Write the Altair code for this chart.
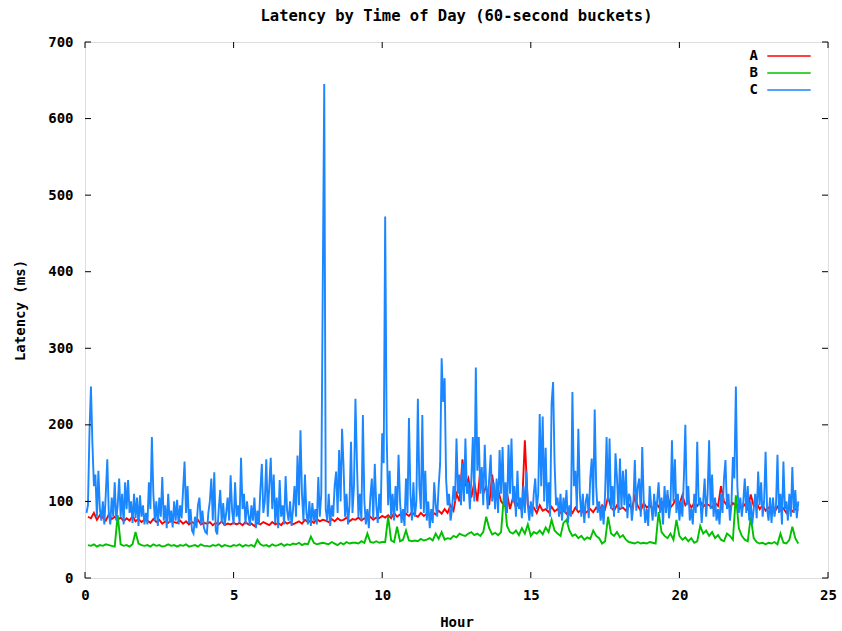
import altair as alt
import pandas as pd

series_names = ["A", "B", "C"]
series_colors = ["#ff0000", "#00c000", "#1a86ff"]

x_ticks = [0, 5, 10, 15, 20, 25]
y_ticks = [0, 100, 200, 300, 400, 500, 600, 700]

# Series A: one value per 6 minutes (0.1 h), rows = one hour each
a_vals = [
    80, 78, 85, 76, 82, 79, 75, 83, 77, 80,
    76, 79, 74, 78, 75, 81, 74, 77, 73, 76,
    75, 72, 77, 73, 76, 71, 74, 72, 75, 73,
    72, 75, 71, 74, 70, 73, 71, 76, 70, 72,
    71, 73, 69, 72, 70, 74, 69, 71, 70, 72,
    70, 72, 69, 73, 70, 71, 68, 72, 70, 73,
    71, 69, 73, 70, 72, 69, 74, 71, 73, 70,
    72, 74, 71, 76, 73, 75, 72, 77, 74, 76,
    75, 73, 77, 74, 78, 75, 76, 79, 74, 77,
    76, 79, 75, 78, 77, 80, 76, 79, 78, 81,
    79, 82, 78, 85, 80, 83, 79, 84, 81, 86,
    82, 80, 85, 81, 84, 82, 86, 83, 88, 84,
    90, 85, 95, 88, 110, 100, 155, 120, 130, 105,
    125, 100, 140, 110, 120, 95, 135, 105, 115, 100,
    95, 110, 90, 105, 92, 100, 88, 180, 95, 90,
    92, 85, 95, 88, 90, 86, 93, 87, 90, 85,
    88, 84, 90, 85, 92, 86, 89, 84, 87, 90,
    86, 92, 88, 95, 90, 106, 92, 88, 95, 90,
    92, 88, 96, 90, 106, 94, 88, 98, 92, 95,
    90, 98, 93, 100, 95, 108, 92, 97, 105, 96,
    108, 95, 100, 92, 98, 94, 100, 93, 97, 95,
    92, 98, 94, 120, 100, 95, 92, 98, 94, 96,
    92, 96, 90, 109, 94, 98, 90, 95, 88, 92,
    90, 86, 93, 88, 91, 85, 92, 87, 90, 88,
]

# Series B: one value per 6 minutes (0.1 h)
b_vals = [
    43, 42, 44, 41, 43, 42, 44, 43, 42, 41,
    82, 44, 42, 43, 41, 44, 60, 45, 43, 42,
    43, 41, 44, 42, 43, 41, 42, 44, 42, 43,
    41, 43, 42, 44, 41, 42, 43, 41, 44, 42,
    42, 41, 43, 42, 44, 41, 43, 42, 41, 43,
    42, 44, 41, 43, 42, 43, 41, 50, 44, 42,
    43, 41, 44, 42, 43, 45, 42, 44, 43, 45,
    44, 46, 43, 45, 44, 54, 46, 44, 45, 46,
    45, 44, 47, 45, 43, 46, 44, 47, 45, 46,
    46, 45, 48, 46, 58, 47, 46, 48, 46, 47,
    47, 80, 49, 47, 67, 48, 50, 62, 49, 48,
    49, 48, 51, 49, 50, 52, 49, 58, 51, 60,
    50, 52, 51, 55, 53, 58, 56, 55, 58, 60,
    56, 58, 55, 60, 80, 65, 57, 59, 56, 60,
    110, 68, 60, 58, 62, 56, 65, 58, 70, 55,
    60, 58, 62, 57, 66, 60, 76, 62, 58, 55,
    72, 76, 62, 55, 57, 52, 55, 50, 53, 51,
    62, 55, 52, 45, 48, 80, 58, 55, 60, 53,
    56, 50, 47, 46, 45, 47, 45, 46, 45, 47,
    46, 45, 86, 60, 55, 52, 58, 50, 76, 55,
    50, 53, 48, 52, 46, 48, 68, 58, 62, 55,
    60, 52, 56, 50, 48, 58, 55, 50, 108, 65,
    55, 50, 48, 80, 52, 47, 45, 46, 44, 46,
    45, 47, 44, 58, 46, 45, 50, 67, 52, 45,
]

# Series C: one value per 3 minutes (0.05 h)
c_vals = [
    85, 95, 190, 250, 175, 120, 135, 80, 140, 90, 75, 100, 70, 110, 155, 85, 70, 105, 80, 125,
    75, 95, 130, 80, 110, 70, 125, 90, 128, 85, 100, 72, 110, 78, 105, 68, 108, 80, 95, 70,
    85, 70, 125, 90, 184, 110, 75, 100, 68, 105, 80, 132, 75, 95, 65, 110, 72, 88, 66, 100,
    75, 102, 70, 95, 78, 115, 152, 85, 120, 72, 90, 62, 58, 80, 65, 95, 105, 70, 88, 66,
    60, 58, 85, 100, 130, 75, 138, 62, 57, 90, 115, 72, 98, 68, 85, 105, 75, 134, 88, 70,
    125, 80, 95, 72, 157, 90, 110, 70, 100, 82, 68, 95, 75, 105, 65, 88, 70, 115, 149, 85,
    100, 155, 80, 120, 157, 90, 135, 72, 105, 65, 128, 80, 95, 70, 133, 88, 75, 100, 68, 90,
    120, 80, 160, 95, 193, 110, 75, 135, 85, 70, 100, 68, 98, 75, 90, 70, 132, 80, 110, 380,
    645, 90, 75, 110, 68, 95, 80, 120, 139, 85, 167, 100, 195, 145, 80, 110, 70, 95, 178, 85,
    120, 234, 150, 80, 110, 75, 213, 100, 70, 90, 65, 105, 130, 78, 149, 95, 72, 110, 85, 189,
    150, 472, 187, 95, 140, 80, 110, 75, 120, 88, 161, 100, 72, 90, 68, 130, 85, 209, 110, 75,
    125, 80, 100, 234, 120, 90, 213, 85, 140, 75, 100, 65, 90, 72, 125, 95, 80, 120, 150, 287,
    230, 261, 130, 95, 110, 75, 90, 120, 100, 182, 110, 135, 95, 150, 100, 182, 110, 125, 90, 130,
    184, 100, 275, 140, 184, 110, 145, 95, 174, 120, 90, 130, 161, 100, 125, 90, 130, 85, 167, 110,
    171, 95, 125, 85, 174, 110, 182, 100, 120, 80, 140, 90, 105, 78, 120, 85, 140, 95, 75, 100,
    80, 110, 130, 90, 110, 214, 120, 211, 100, 170, 90, 125, 80, 228, 256, 150, 95, 105, 80, 110,
    75, 105, 85, 115, 72, 95, 80, 243, 120, 140, 90, 195, 110, 80, 110, 72, 100, 110, 78, 130,
    156, 95, 220, 120, 85, 100, 75, 95, 70, 110, 184, 100, 182, 90, 120, 80, 163, 130, 85, 156,
    90, 140, 95, 142, 78, 110, 105, 75, 95, 154, 88, 120, 130, 80, 171, 100, 72, 90, 68, 120,
    95, 75, 110, 80, 100, 125, 85, 105, 70, 120, 85, 115, 78, 95, 180, 100, 155, 85, 110, 75,
    100, 80, 130, 200, 95, 120, 75, 90, 70, 110, 85, 178, 95, 105, 72, 100, 130, 80, 110, 180,
    90, 135, 80, 105, 75, 90, 70, 110, 85, 130, 154, 90, 110, 75, 95, 158, 130, 250, 120, 85,
    105, 80, 100, 130, 85, 120, 75, 100, 70, 90, 110, 78, 139, 95, 125, 80, 100, 165, 90, 75,
    105, 72, 105, 80, 95, 161, 85, 110, 70, 152, 90, 100, 75, 110, 80, 145, 85, 115, 78, 100,
]

assert len(a_vals) == 240 and len(b_vals) == 240 and len(c_vals) == 480

hours_ab = [round(0.1 * (i + 1), 2) for i in range(240)]
hours_c = [round(0.05 * (i + 1), 3) for i in range(480)]

rows = []
for name, hrs, vals in [("A", hours_ab, a_vals), ("B", hours_ab, b_vals), ("C", hours_c, c_vals)]:
    for h, v in zip(hrs, vals):
        rows.append({"hour": h, "latency": v, "series": name})
df = pd.DataFrame(rows)

FONT = "DejaVu Sans Mono"
W, H = 743, 536

x_scale = alt.Scale(domain=[0, 25], nice=False, zero=False)
y_scale = alt.Scale(domain=[0, 700], nice=False)

x_axis = alt.Axis(
    title="Hour", values=x_ticks, ticks=False, domain=False, grid=False,
    labelPadding=10, labelFont=FONT, labelFontSize=14, labelFontWeight="bold",
    labelColor="black", titleFont=FONT, titleFontSize=14, titleFontWeight="bold",
    titleColor="black", titleX=W / 2, titleY=44, titleBaseline="middle",
    labelFlush=False,
)
y_axis = alt.Axis(
    title="Latency (ms)", values=y_ticks, ticks=False, domain=False, grid=False,
    labelPadding=12, labelFont=FONT, labelFontSize=14, labelFontWeight="bold",
    labelColor="black", titleFont=FONT, titleFontSize=14, titleFontWeight="bold",
    titleColor="black", titleX=-65, titleY=H / 2, titleBaseline="middle",
    titleAngle=270, labelFlush=False,
)

lines = alt.Chart(df).mark_line(strokeWidth=1.9, clip=True).encode(
    x=alt.X("hour:Q", scale=x_scale, axis=x_axis),
    y=alt.Y("latency:Q", scale=y_scale, axis=y_axis),
    color=alt.Color(
        "series:N",
        scale=alt.Scale(domain=series_names, range=series_colors),
        legend=alt.Legend(
            title=None, orient="none", legendX=697, legendY=7,
            symbolType="M-4,0H4", symbolSize=118, symbolStrokeWidth=1.5,
            labelAlign="right", labelOffset={"expr": "-38"}, labelFont=FONT, labelFontSize=14,
            labelFontWeight="bold", labelColor="black", rowPadding=3, padding=0,
        ),
    ),
)

xt = pd.DataFrame({"hour": x_ticks})
yt = pd.DataFrame({"latency": y_ticks})

x_bottom = alt.Chart(xt).mark_rule(color="black", strokeWidth=1).encode(
    x=alt.X("hour:Q", scale=x_scale, axis=x_axis), y=alt.value(H), y2=alt.value(H - 6)
)
x_top = alt.Chart(xt).mark_rule(color="black", strokeWidth=1).encode(
    x=alt.X("hour:Q", scale=x_scale, axis=x_axis), y=alt.value(0), y2=alt.value(6)
)
y_left = alt.Chart(yt).mark_rule(color="black", strokeWidth=1).encode(
    y=alt.Y("latency:Q", scale=y_scale, axis=y_axis), x=alt.value(0), x2=alt.value(6)
)
y_right = alt.Chart(yt).mark_rule(color="black", strokeWidth=1).encode(
    y=alt.Y("latency:Q", scale=y_scale, axis=y_axis), x=alt.value(W), x2=alt.value(W - 6)
)

chart = alt.layer(lines, x_bottom, x_top, y_left, y_right).properties(
    width=W,
    height=H,
    padding={"left": 85, "top": 42, "right": 14, "bottom": 53},
    autosize=alt.AutoSizeParams(type="none"),
    title=alt.TitleParams(
        "Latency by Time of Day (60-second buckets)", font=FONT, fontSize=15.5,
        fontWeight="bold", anchor="middle", offset=11, color="black",
    ),
).configure_view(stroke="black", strokeWidth=1).configure(background="white")

chart.save("out.html", embed_options={"renderer": "svg", "actions": False})
